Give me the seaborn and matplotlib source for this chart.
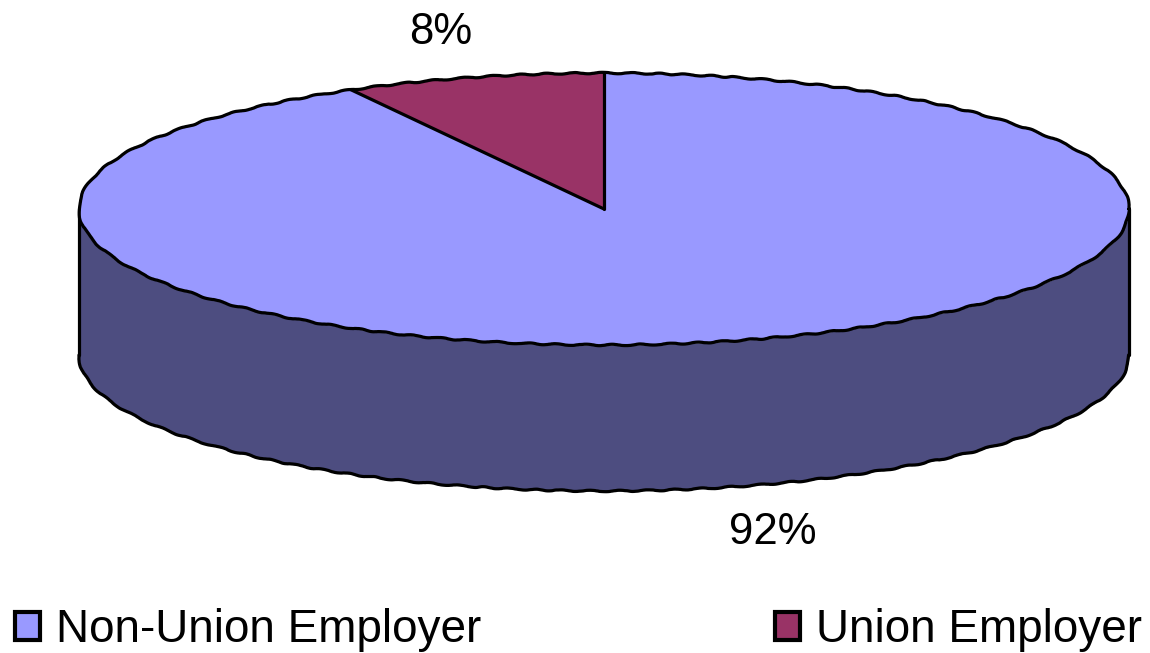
import numpy as np
import matplotlib
matplotlib.use('Agg')
import matplotlib.pyplot as plt
from matplotlib.patches import Patch
import seaborn as sns

labels = ['Non-Union Employer', 'Union Employer']
shares = [92, 8]
pct_labels = ['92%', '8%']
top_colors = ['#9999FF', '#993366']
side_color = '#4D4D80'

W, H = 1150, 653
CX, CY = 604, 209   # centre of the top ellipse, px
RX, RY = 525, 136   # radii, px
DEPTH = 146         # wall height, px
LW = 2.3
SKETCH = (0.7, 30, 2)   # rim of the original is slightly jagged

sns.set_theme(style='white')
plt.rcParams['font.family'] = ['Liberation Sans', 'DejaVu Sans']

fig = plt.figure(figsize=(W / 100, H / 100), dpi=100, facecolor='white')
ax = fig.add_axes([0, 0, 1, 1])

# side wall
t = np.linspace(np.pi, 2 * np.pi, 145)
x = np.cos(t)
y = np.sin(t)
d = DEPTH / RY
ax.fill_between(x, y - d, y, color=side_color, lw=0, zorder=1)
bottom, = ax.plot(x, y - d, color='black', lw=LW, zorder=2)
bottom.set_sketch_params(*SKETCH)
ax.plot([-1, -1], [0, -d], color='black', lw=LW, zorder=2)
ax.plot([1, 1], [0, -d], color='black', lw=LW, zorder=2)

# top face, clockwise from 12 o'clock
ax.pie(shares, colors=top_colors, startangle=90, counterclock=False,
       wedgeprops=dict(linewidth=0, zorder=3))

# rim and slice edges drawn apart so only the rim wobbles
t = np.linspace(0, 2 * np.pi, 289)
rim, = ax.plot(np.cos(t), np.sin(t), color='black', lw=LW, zorder=4)
rim.set_sketch_params(*SKETCH)
a = np.pi / 2 + 2 * np.pi * shares[1] / sum(shares)
ax.plot([0, 0], [1, 0], color='black', lw=LW, zorder=4, solid_capstyle='round')
ax.plot([0, np.cos(a)], [0, np.sin(a)], color='black', lw=LW, zorder=4, solid_capstyle='round')

# pie() forces equal aspect, undo so that it becomes an ellipse
ax.set_aspect('auto')
ax.set_xlim(-CX / RX, (W - CX) / RX)
ax.set_ylim(-(H - CY) / RY, CY / RY)
ax.axis('off')

ax.text((773 - CX) / RX, (CY - 532) / RY, pct_labels[0], fontsize=31.5,
        ha='center', va='center', color='black')
ax.text((441 - CX) / RX, (CY - 33) / RY, pct_labels[1], fontsize=31.5,
        ha='center', va='center', color='black')

handles = [Patch(facecolor=c, edgecolor='black', linewidth=3, joinstyle='round') for c in top_colors]
fig.legend(handles, labels, ncol=2, loc='lower left', bbox_to_anchor=(-0.015, -0.048),
           frameon=False, fontsize=33, handlelength=0.55, handleheight=0.55,
           handletextpad=0.35, columnspacing=6.4, borderaxespad=0.3, labelcolor='black')

fig.savefig('out.png', dpi=100)
